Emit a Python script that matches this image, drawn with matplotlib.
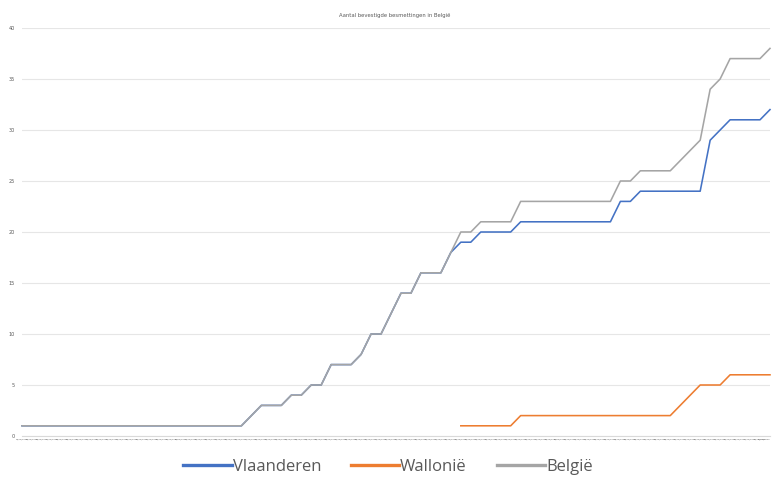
import matplotlib
matplotlib.use("Agg")
import matplotlib.pyplot as plt
import pandas as pd

title = "Aantal bevestigde besmettingen in België"
dates = [d.strftime("%d/%m/%Y") for d in pd.date_range("2020-02-04", periods=76, freq="D")]

belgie = [1] * 23 + [2, 3, 3, 3, 4, 4, 5, 5, 7, 7, 7, 8, 10, 10, 12, 14, 14, 16, 16, 16,
          18, 20, 20, 21, 21, 21, 21, 23, 23, 23, 23, 23, 23, 23, 23, 23, 23,
          25, 25, 26, 26, 26, 26, 27, 28, 29, 34, 35, 37, 37, 37, 37, 38]
vlaanderen = belgie[:44] + [19, 19, 20, 20, 20, 20, 21, 21, 21, 21, 21, 21, 21, 21, 21, 21,
                            23, 23, 24, 24, 24, 24, 24, 24, 24, 29, 30, 31, 31, 31, 31, 32]
wallonie = [None] * 44 + [1, 1, 1, 1, 1, 1, 2, 2, 2, 2, 2, 2, 2, 2, 2, 2, 2, 2, 2, 2, 2, 2,
                          3, 4, 5, 5, 5, 6, 6, 6, 6, 6]

yticks = [0, 5, 10, 15, 20, 25, 30, 35, 40]

W, H = 772, 484
fig = plt.figure(figsize=(W / 100, H / 100), dpi=100)
ax = fig.add_axes([22 / W, 1 - 436 / H, (770 - 22) / W, (436 - 28) / H])

x = list(range(len(dates)))
wx = [i for i, v in zip(x, wallonie) if v is not None]
wy = [v for v in wallonie if v is not None]

ax.plot(x, vlaanderen, color="#4472C4", lw=1.15, label="Vlaanderen", clip_on=False, zorder=3)
ax.plot(wx, wy, color="#ED7D31", lw=1.15, label="Wallonië", clip_on=False, zorder=3)
ax.plot(x, belgie, color="#A5A5A5", lw=1.15, label="België", clip_on=False, zorder=4)

ax.set_xlim(0, len(dates) - 1)
ax.set_ylim(0, 40)
ax.set_yticks(yticks)
ax.set_yticklabels([str(v) for v in yticks], fontsize=3.5, color="#595959")
ax.set_xticks(x)
ax.set_xticklabels(dates, fontsize=1.6, color="#595959")
ax.get_xticklabels()[-1].set_horizontalalignment("right")
ax.tick_params(axis="both", length=0, pad=2)
ax.tick_params(axis="y", pad=5)
ax.grid(axis="y", color="#E6E6E6", lw=0.8)
ax.set_axisbelow(True)
for s in ["top", "right", "left"]:
    ax.spines[s].set_visible(False)
ax.spines["bottom"].set_color("#D9D9D9")
ax.spines["bottom"].set_linewidth(0.8)

fig.text(395 / W, 1 - 16 / H, title, ha="center", va="center", fontsize=3.8, color="#595959")

fig.legend(loc="center", bbox_to_anchor=(388 / W, 1 - 467 / H), ncol=3, frameon=False,
           handlelength=2.9, handletextpad=0.05, columnspacing=1.8,
           labelcolor="#595959", prop={"family": "Open Sans", "size": 12})
for line in fig.legends[0].get_lines():
    line.set_linewidth(2.4)

fig.savefig("out.png", dpi=100, facecolor="white")
